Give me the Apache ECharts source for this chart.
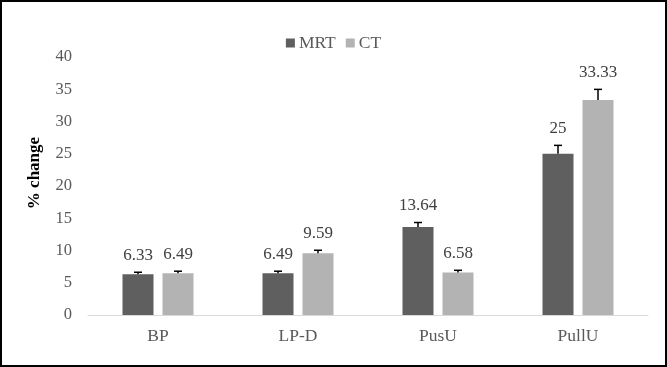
<!DOCTYPE html>
<html>
<head>
<meta charset="utf-8">
<script src="https://cdn.jsdelivr.net/npm/echarts@6/dist/echarts.min.js"></script>
<style>
html,body{margin:0;padding:0;background:#fff;}
#chart{width:667px;height:367px;}
</style>
</head>
<body>
<div id="chart"></div>
<script>
const categories = ['BP', 'LP-D', 'PusU', 'PullU'];
const mrtValues = [6.33, 6.49, 13.64, 25];
const ctValues = [6.49, 9.59, 6.58, 33.33];
const mrtErrors = [0.3, 0.3, 0.7, 1.3];
const ctErrors = [0.3, 0.45, 0.35, 1.65];
const yTicks = [0, 5, 10, 15, 20, 25, 30, 35, 40];

const FONT = '"Liberation Serif", "Times New Roman", serif';
const BAR_W = 31, BAR_GAP = 9;

function errSeries(name, values, errors, sign) {
  return {
    type: 'custom',
    name: name + '-err',
    z: 5,
    silent: true,
    data: values.map((v, i) => [i, v, errors[i]]),
    encode: { x: 0, y: 1 },
    renderItem: function (params, api) {
      const c = api.value(0), v = api.value(1), e = api.value(2);
      const off = sign * (BAR_W + BAR_GAP) / 2;
      const p0 = api.coord([c, v]);
      const p1 = api.coord([c, v + e]);
      const x = p0[0] + off;
      const cap = 4;
      return {
        type: 'group',
        children: [
          { type: 'line', shape: { x1: x, y1: p0[1], x2: x, y2: p1[1] }, style: { stroke: '#000', lineWidth: 1.5 } },
          { type: 'line', shape: { x1: x - cap, y1: p1[1], x2: x + cap, y2: p1[1] }, style: { stroke: '#000', lineWidth: 1.5 } },
          { type: 'text', style: { text: String(v), x: x, y: p1[1] - 17, align: 'center', verticalAlign: 'middle', font: '17px ' + FONT, fill: '#404040' } }
        ]
      };
    }
  };
}

const chart = echarts.init(document.getElementById('chart'));
chart.setOption({
  animation: false,
  backgroundColor: '#fff',
  graphic: [{
    type: 'rect', z: 100, silent: true,
    shape: { x: 1, y: 1, width: 665, height: 365 },
    style: { fill: 'none', stroke: '#000', lineWidth: 2 }
  }],
  legend: {
    data: ['MRT', 'CT'],
    top: 29,
    left: 'center',
    itemWidth: 9,
    itemHeight: 9,
    itemGap: 10,
    icon: 'rect',
    textStyle: { fontFamily: FONT, fontSize: 17.5, color: '#595959', padding: [0, 0, 0, -1] }
  },
  grid: { left: 88, right: 19, top: 57, bottom: 52 },
  xAxis: {
    type: 'category',
    data: categories,
    axisLine: { lineStyle: { color: '#d9d9d9', width: 1 } },
    axisTick: { show: false },
    axisLabel: { fontFamily: FONT, fontSize: 17.5, color: '#595959', margin: 12 }
  },
  yAxis: {
    type: 'value',
    min: yTicks[0],
    max: yTicks[yTicks.length - 1],
    interval: yTicks[1] - yTicks[0],
    name: '% change',
    nameLocation: 'middle',
    nameGap: 45,
    nameTextStyle: { fontFamily: FONT, fontSize: 17, fontWeight: 'bold', color: '#000', padding: [0, 0, 0, 26] },
    axisLine: { show: false },
    axisTick: { show: false },
    splitLine: { show: false },
    axisLabel: { fontFamily: FONT, fontSize: 16.5, color: '#595959', margin: 16 }
  },
  series: [
    { name: 'MRT', type: 'bar', data: mrtValues, barWidth: BAR_W, barGap: (BAR_GAP / BAR_W * 100) + '%', itemStyle: { color: '#5f5f5f' } },
    { name: 'CT', type: 'bar', data: ctValues, barWidth: BAR_W, itemStyle: { color: '#b3b3b3' } },
    errSeries('MRT', mrtValues, mrtErrors, -1),
    errSeries('CT', ctValues, ctErrors, 1)
  ]
});
</script>
</body>
</html>
